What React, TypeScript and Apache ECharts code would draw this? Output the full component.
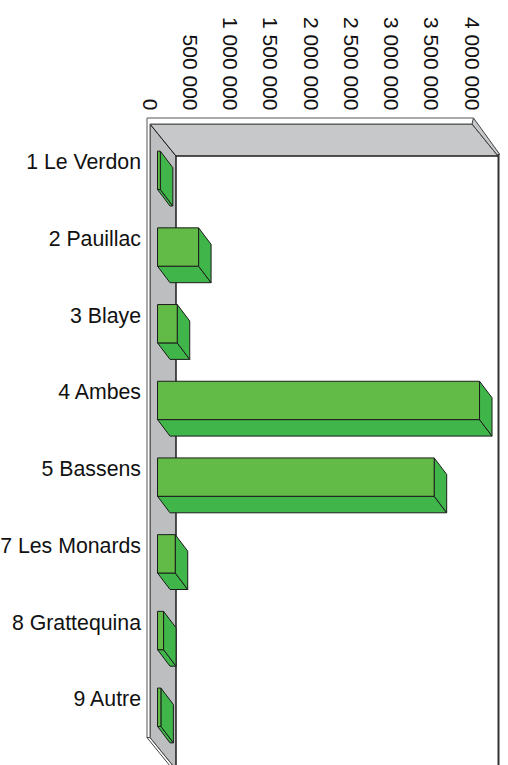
import React, { useEffect, useRef } from "react";
import * as echarts from "echarts";

const categories = ["1 Le Verdon", "2 Pauillac", "3 Blaye", "4 Ambes", "5 Bassens", "7 Les Monards", "8 Grattequina", "9 Autre"];
const values = [35000, 510000, 245000, 4000000, 3437000, 220000, 75000, 42000];
const axisMax = 4000000;
const axisStep = 500000;

const FONT = "'Liberation Sans', Arial, sans-serif";
const LINE = "#1c1c1c";
const FRONT = "#62BB46";
const SIDE = "#3FB54A";
const DX = 26; // depth of the chart walls
const DY = 32;
const BAR_DX = 12.5; // depth of a bar
const BAR_DY = 16.5;

function renderFrame(params: any) {
  const c = params.coordSys;
  const x0 = c.x, y0 = c.y, x1 = c.x + c.width, y1 = c.y + c.height;
  const poly = (points: number[][], fill: string, stroke = LINE, lw = 1) => ({
    type: "polygon", shape: { points }, style: { fill, stroke, lineWidth: lw },
  });
  const line = (a: number[], b: number[], lw = 1, col = LINE) => ({
    type: "line", shape: { x1: a[0], y1: a[1], x2: b[0], y2: b[1] }, style: { stroke: col, lineWidth: lw },
  });
  return {
    type: "group",
    children: [
      poly([[x0, y0], [x0 + DX, y0 + DY], [x0 + DX, y1 + DY], [x0, y1]], "#BCBEC0", LINE),
      poly([[x0, y0], [x1, y0], [x1 + DX, y0 + DY], [x0 + DX, y0 + DY]], "#C7C8CA", LINE),
      poly([[x0 - 3, y0 - 6], [x1 + 1.5, y0 - 6], [x1 + 1, y0], [x0, y0], [x0, y1], [x0 - 3, y1]], "#FFFFFF", "#555555"),
      poly([[x1 + 1.5, y0 - 6], [x1 + DX + 1.5, y0 + DY - 2], [x1 + DX, y0 + DY], [x1, y0]], "#C7C8CA", "#444444"),
      poly([[x0 - 3, y1], [x0 + DX - 3, y1 + DY], [x0 + DX, y1 + DY], [x0, y1]], "#FFFFFF", "#444444"),
      line([x1 + DX + 0.5, y0 + DY - 2], [x1 + DX + 0.5, y1 + DY], 2, "#333333"),
      line([x0 + DX, y0 + DY], [x1 + DX, y0 + DY]),
      line([x0 + DX, y0 + DY], [x0 + DX, y1 + DY]),
    ],
  };
}

function renderBar(params: any, api: any) {
  const cat = api.value(0);
  const val = api.value(1);
  const end = api.coord([val, cat]);
  const start = api.coord([0, cat]);
  const band = api.size([0, 1])[1];
  const h = band * 0.5;
  const ox = band * 0.098;
  const oy = band * 0.104;
  const l = start[0] + ox;
  const r = end[0] + ox;
  const t = start[1] + oy - h / 2;
  const b = t + h;
  const style = (fill: string) => ({ fill, stroke: LINE, lineWidth: 1 });
  return {
    type: "group",
    children: [
      { type: "polygon", shape: { points: [[l, b], [r, b], [r + BAR_DX, b + BAR_DY], [l + BAR_DX, b + BAR_DY]] }, style: style(SIDE) },
      { type: "polygon", shape: { points: [[r, t], [r + BAR_DX, t + BAR_DY], [r + BAR_DX, b + BAR_DY], [r, b]] }, style: style(SIDE) },
      { type: "rect", shape: { x: l, y: t, width: r - l, height: h }, style: style(FRONT) },
    ],
  };
}

export default function App() {
  const ref = useRef<HTMLDivElement>(null);
  useEffect(() => {
    const chart = echarts.init(ref.current!, null, { renderer: "svg" });
    chart.setOption({
      animation: false,
      backgroundColor: "#ffffff",
      grid: { left: 150, top: 124, width: 322, height: 613.6, containLabel: false, outerBoundsMode: "none" },
      xAxis: {
        type: "value",
        position: "top",
        min: 0,
        max: axisMax,
        interval: axisStep,
        splitLine: { show: false },
        axisLine: { show: false },
        axisTick: { show: false },
        axisLabel: {
          rotate: 90,
          margin: 13.5,
          fontFamily: FONT,
          fontSize: 21,
          color: "#111111",
          padding: [7, 0, 0, 0],
          hideOverlap: false,
          formatter: (v: number) => String(v).replace(/\B(?=(\d{3})+(?!\d))/g, " "),
        },
      },
      yAxis: {
        type: "category",
        inverse: true,
        data: categories,
        axisLine: { show: false },
        axisTick: { show: false },
        axisLabel: { margin: 9, fontFamily: FONT, fontSize: 21.3, color: "#111111", interval: 0, padding: [0, 0, 3, 0] },
      },
      series: [
        { type: "custom", coordinateSystem: "cartesian2d", data: [[0, 0]], renderItem: renderFrame, silent: true, z: 1 },
        {
          type: "custom",
          coordinateSystem: "cartesian2d",
          data: values.map((v, i) => [i, v]),
          encode: { x: 1, y: 0 },
          renderItem: renderBar,
          silent: true,
          z: 2,
        },
      ],
    });
    return () => chart.dispose();
  }, []);
  return <div ref={ref} style={{ position: "absolute", left: 0, top: 0, width: 508, height: 765 }} />;
}
